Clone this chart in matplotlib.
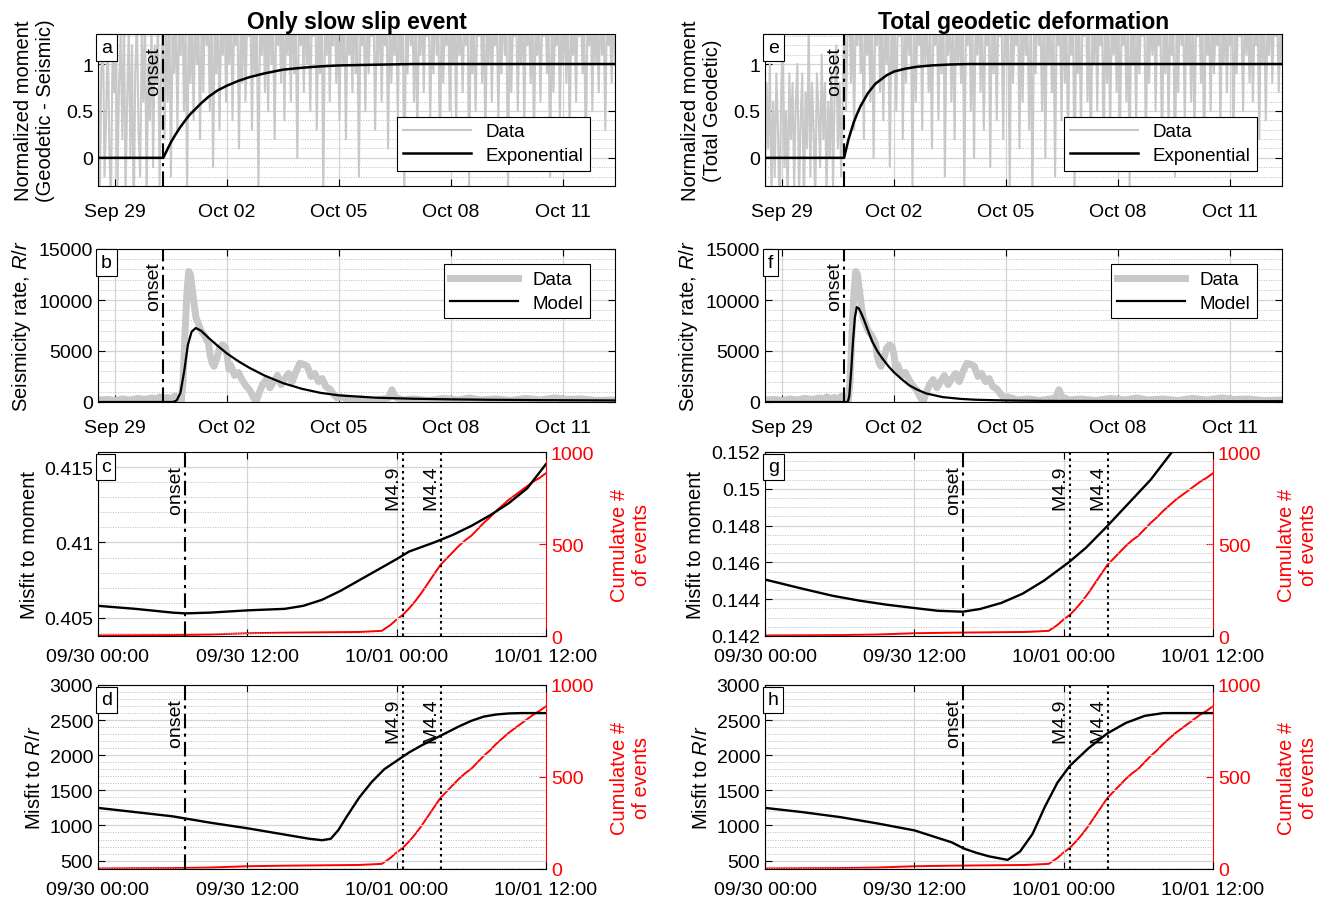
import numpy as np
import matplotlib
matplotlib.use("Agg")
import matplotlib.pyplot as plt
import matplotlib.dates as mdates
from matplotlib.ticker import MultipleLocator, FuncFormatter
from matplotlib.transforms import blended_transform_factory
from datetime import datetime, timedelta

plt.rcParams['font.family'] = ['Liberation Sans', 'DejaVu Sans']
plt.rcParams['mathtext.fontset'] = 'custom'
plt.rcParams['mathtext.it'] = 'Liberation Sans:italic'
plt.rcParams['mathtext.rm'] = 'Liberation Sans'

# ---- time references -------------------------------------------------
day0 = datetime(2020, 9, 29)      # long panels: offsets in days
hour0 = datetime(2020, 9, 30)     # zoomed panels: offsets in hours
long_range = (-0.46, 13.4)
onset_sse_d = 1.29
onset_tot_d = 1.66
onset_sse_h = 7.0
onset_tot_h = 15.9
m49_h = 24.5
m44_h = 27.6

# ---- panel a / e : normalized moment data (regular sampling) ----------
moment_sse = [
    1.1, -0.6, 0.9, 1.5, -0.2, 0.4, 1.4, 0.1, -0.5, 1.2, 0.7, 1.6, -0.3, 0.8, 1.3, 0.2, 1.5, -0.4, 0.6, 1.4,
    0.0, 1.2, -0.7, 0.9, 1.5, 0.3, -0.2, 1.3, 0.6, 1.6, -0.5, 1.0, 0.4, 1.4, -0.1, 1.2, 0.8, 1.5, -0.3, 0.9,
    1.6, 0.2, 1.4, 0.6, 1.7, -0.2, 1.3, 0.9, 1.6, 0.3, 1.5, 1.1, 1.8, 0.5, 1.4, -0.4, 1.6, 0.8, 1.5, 0.4,
    1.7, 1.0, 1.4, 0.2, 1.6, 0.7, 1.8, 1.2, 1.5, 0.5, 1.7, -0.1, 1.4, 0.9, 1.6, 0.3, 1.5, 1.1, 1.8, 0.6,
    1.4, 1.0, 1.7, 0.4, 1.5, 1.2, 1.6, 0.1, 1.4, 0.8, 1.8, 0.6, 1.5, 1.3, 1.7, 0.3, 1.6, 0.9, 1.4, -0.3,
    1.5, 1.1, 1.7, 0.7, 1.6, 0.5, 1.8, 1.0, 1.4, 0.2, 1.6, 1.2, 1.5, 0.8, 1.7, 0.4, 1.5, 1.1, 1.6, 0.6,
    1.8, 0.9, 1.4, 0.0, 1.6, 1.2, 1.5, 0.7, 1.7, 1.0, 1.4, 0.5, 1.6, 1.3, 1.8, 0.3, 1.5, 0.9, 1.7, -0.4,
    1.4, 1.1, 1.6, 0.6, 1.5, 1.2, 1.8, 0.8, 1.4, 0.4, 1.7, 1.0, 1.5, 0.2, 1.6, 1.1, 1.4, 0.7, 1.8, 0.9,
    1.5, -0.2, 1.6, 1.2, 1.4, 0.5, 1.7, 0.9, 1.5, 1.3, 1.6, 0.3, 1.4, 1.0, 1.8, 0.6, 1.5, 1.2, 1.7, 0.1,
    1.6, 0.8, 1.4, 1.1, 1.5, 0.4, 1.7, 1.0, 1.6, -0.5, 1.4, 0.9, 1.8, 1.2, 1.5, 0.6, 1.6, 0.2, 1.4, 1.1,
    1.7, 0.7, 1.5, 1.3, 1.6, 0.4, 1.4, 0.9, 1.8, 1.1, 1.5, -0.1, 1.6, 0.8, 1.4, 1.2, 1.7, 0.5, 1.5, 1.0,
    1.6, 0.3, 1.8, 1.1, 1.4, 0.7, 1.5, 1.2, 1.7, -0.3, 1.6, 0.9, 1.4, 0.5, 1.5, 1.3, 1.8, 0.8, 1.6, 0.2,
    1.4, 1.0, 1.7, 0.6, 1.5, 1.2, 1.6, 0.4, 1.4, 0.9, 1.8, 1.1, 1.5, -0.4, 1.7, 0.7, 1.4, 1.3, 1.6, 0.5,
    1.5, 1.0, 1.8, 0.3, 1.6, 1.2, 1.4, 0.8, 1.7, 0.1, 1.5, 1.1, 1.6, 0.6, 1.4, 1.3, 1.8, 0.9, 1.5, -0.2,
    1.6, 0.7, 1.4, 1.2, 1.7, 0.4, 1.5, 1.0, 1.6, 0.8, 1.8, 0.2, 1.4, 1.1, 1.5, 0.6, 1.7, 1.3, 1.6, 0.9,
    1.4, 0.0, 1.5, 1.2, 1.8, 0.5, 1.6, 1.0, 1.4, 0.7, 1.7, 1.1, 1.5, 0.3, 1.6, 1.2, 1.4, 0.8, 1.7, 1.0]

moment_tot = [
    -0.5, 0.8, 0.1, 1.0, -0.4, 0.6, -0.2, 0.9, 0.3, -0.6, 0.7, 1.3, -0.1, 0.5, -0.5, 0.9, 0.2, 0.8, -0.3, 0.6,
    1.0, -0.4, 0.4, 0.9, -0.6, 0.7, 0.1, 1.4, -0.2, 0.8, 0.3, -0.5, 0.9, 0.5, -0.1, 1.1, 0.2, 0.8, -0.4, 0.6,
    0.0, 0.9, -0.3, 0.7, 1.2, 0.1, 0.8, -0.2, 0.6, 1.6, 0.5, 1.4, 1.7, 0.8, 1.5, 0.3, 1.6, 1.2, 1.8, 0.9,
    1.4, 0.2, 1.7, 1.1, 1.5, 0.6, 1.6, 0.0, 1.4, 1.2, 1.8, 0.7, 1.5, 0.4, 1.6, 1.0, 1.7, -0.1, 1.4, 0.9,
    1.6, 0.5, 1.5, 1.3, 1.8, 0.2, 1.4, 0.8, 1.6, 1.1, 1.5, -0.3, 1.7, 0.6, 1.4, 1.2, 1.6, 0.3, 1.8, 1.0,
    1.5, 0.7, 1.4, 0.1, 1.6, 1.2, 1.7, 0.4, 1.5, 0.9, 1.8, -0.2, 1.4, 1.1, 1.6, 0.6, 1.5, 0.2, 1.7, 1.0,
    1.4, 0.8, 1.6, -0.4, 1.5, 1.2, 1.8, 0.5, 1.4, 0.0, 1.6, 1.1, 1.7, 0.7, 1.5, 0.3, 1.4, 1.2, 1.6, -0.1,
    1.8, 0.9, 1.5, 0.4, 1.6, 1.3, 1.4, 0.2, 1.7, 1.0, 1.5, -0.3, 1.6, 0.8, 1.4, 1.2, 1.8, 0.1, 1.5, 0.6,
    1.7, 1.1, 1.4, 0.3, 1.6, -0.5, 1.5, 0.9, 1.8, 1.2, 1.4, 0.5, 1.6, 0.0, 1.7, 1.0, 1.5, 0.7, 1.4, -0.2,
    1.6, 1.2, 1.5, 0.4, 1.8, 0.8, 1.4, 0.1, 1.6, 1.1, 1.7, -0.4, 1.5, 0.9, 1.4, 0.3, 1.6, 1.3, 1.8, 0.6,
    1.5, 0.0, 1.4, 1.0, 1.7, 0.5, 1.6, 1.2, 1.5, -0.1, 1.8, 0.8, 1.4, 0.3, 1.6, 1.1, 1.5, 0.7, 1.7, 0.2,
    1.4, 1.2, 1.6, 0.6, 1.5, -0.3, 1.8, 1.0, 1.4, 0.4, 1.7, 0.9, 1.5, 1.3, 1.6, 0.1, 1.4, 0.8, 1.6, 1.1,
    1.8, 0.5, 1.5, 1.2, 1.4, 0.0, 1.6, 0.9, 1.7, 0.3, 1.5, 1.1, 1.4, -0.2, 1.6, 0.7, 1.8, 1.2, 1.5, 0.4,
    1.6, 1.0, 1.4, 0.6, 1.7, 0.2, 1.5, 1.3, 1.6, 0.8, 1.4, -0.1, 1.8, 1.1, 1.5, 0.5, 1.6, 0.9, 1.4, 1.2,
    1.7, 0.3, 1.5, 1.0, 1.6, 0.7, 1.4, 1.2, 1.8, 0.1, 1.5, 0.9, 1.6, 1.3, 1.4, 0.5, 1.7, 1.1, 1.5, 0.8,
    1.6, 0.6, 1.4, 1.2, 1.5, 0.2, 1.8, 1.0, 1.6, 0.4, 1.4, 1.1, 1.7, 0.8, 1.5, 1.3, 1.6, 0.7, 1.4, 1.0]

# exponential model curves (days, value)
exp_sse_t = [-0.46, 1.29, 1.4, 1.5, 1.62, 1.75, 1.9, 2.0, 2.15, 2.3, 2.5, 2.75, 3.0, 3.3, 3.6,
             4.0, 4.5, 5.0, 5.5, 6.0, 7.0, 8.0, 13.4]
exp_sse_v = [0.0, 0.0, 0.09, 0.17, 0.25, 0.33, 0.41, 0.46, 0.52, 0.58, 0.65, 0.72, 0.77, 0.82,
             0.86, 0.90, 0.94, 0.96, 0.975, 0.985, 0.993, 1.0, 1.0]
exp_tot_t = [-0.46, 1.66, 1.72, 1.78, 1.85, 1.92, 2.0, 2.1, 2.2, 2.3, 2.4, 2.5, 2.6, 2.8, 3.0,
             3.3, 3.6, 4.0, 4.5, 5.0, 13.4]
exp_tot_v = [0.0, 0.0, 0.1, 0.2, 0.29, 0.38, 0.46, 0.55, 0.62, 0.69, 0.74, 0.79, 0.82, 0.88,
             0.92, 0.95, 0.97, 0.985, 0.995, 1.0, 1.0]

# ---- panel b / f : seismicity rate (days, R/r) -------------------------
rate_t = [-0.45, -0.2, 0.0, 0.2, 0.4, 0.6, 0.8, 1.0, 1.1, 1.2, 1.3, 1.4, 1.5, 1.6, 1.7, 1.77,
          1.82, 1.87, 1.92, 1.97, 2.02, 2.07, 2.12, 2.17, 2.22, 2.3, 2.4, 2.5, 2.55, 2.6, 2.65,
          2.72, 2.8, 2.88, 2.95, 3.0, 3.05, 3.1, 3.2, 3.3, 3.4, 3.5, 3.6, 3.7, 3.78, 3.85,
          3.95, 4.05, 4.15, 4.25, 4.35, 4.45, 4.55, 4.65, 4.75, 4.85, 4.95, 5.05, 5.15, 5.25,
          5.35, 5.45, 5.55, 5.65, 5.75, 5.85, 5.95, 6.05, 6.3, 6.6, 6.9, 7.2, 7.33, 7.42, 7.5,
          7.7, 8.0, 8.4, 8.8, 9.2, 9.5, 9.8, 10.2, 10.6, 11.0, 11.4, 11.8, 12.1, 12.5, 12.9, 13.4]
rate_v = [200, 250, 150, 300, 200, 350, 250, 400, 300, 500, 300, 450, 300, 600, 200, 0,
          2000, 6500, 10500, 12800, 12500, 11000, 9500, 8200, 7800, 7000, 6500, 5800, 4500, 3800, 3500,
          4200, 5300, 5600, 5400, 4600, 3200, 3600, 2600, 2900, 2200, 1600, 1200, 500, 0, 800,
          1700, 2200, 1400, 2000, 2600, 1700, 2300, 2800, 2000, 3000, 3800, 3700, 3500, 2500,
          2800, 2000, 2300, 1500, 1300, 800, 400, 500, 200, 300, 150, 300, 400, 1200, 500,
          200, 300, 150, 350, 200, 400, 200, 300, 150, 350, 200, 400, 250, 300, 150, 200]

# seismicity model curves (days, R/r)
rmod_sse_t = [-0.46, 1.55, 1.65, 1.75, 1.85, 1.95, 2.05, 2.16, 2.3, 2.5, 2.75, 3.0, 3.3, 3.6,
              4.0, 4.5, 5.0, 5.5, 6.0, 7.0, 8.0, 9.0, 10.0, 11.5, 13.4]
rmod_sse_v = [0, 0, 150, 900, 3000, 5600, 6900, 7250, 7000, 6300, 5500, 4750, 4000, 3350,
              2600, 1850, 1300, 900, 650, 420, 320, 260, 220, 180, 150]
rmod_tot_t = [-0.46, 1.76, 1.8, 1.85, 1.9, 1.95, 2.0, 2.06, 2.12, 2.2, 2.3, 2.42, 2.55, 2.68,
              2.85, 3.0, 3.2, 3.4, 3.6, 3.85, 4.3, 4.8, 5.2, 6.0, 7.0, 9.0, 13.4]
rmod_tot_v = [0, 0, 600, 3000, 6000, 8300, 9300, 9150, 8700, 8000, 7000, 5900, 5000, 4300,
              3500, 2900, 2250, 1650, 1250, 850, 480, 300, 220, 150, 110, 90, 80]

# ---- panels c, d, g, h : misfits (hours from 09/30 00:00) ---------------
mis_mom_sse_t = [0, 3, 6, 7, 9, 12, 15, 16.5, 18, 19.5, 21, 22.5, 24, 25, 26, 27, 28.5, 30,
                 31.5, 33, 34.5, 36]
mis_mom_sse_v = [0.4058, 0.4056, 0.40535, 0.4053, 0.40535, 0.4055, 0.4056, 0.4058, 0.4062,
                 0.4068, 0.4075, 0.4082, 0.4089, 0.4094, 0.4097, 0.4100, 0.4105, 0.4111,
                 0.4118, 0.4126, 0.4136, 0.4152]
mis_rr_sse_t = [0, 3, 6, 9, 12, 15, 17, 18, 18.7, 19.3, 20, 21, 22, 23, 24, 25, 26, 27, 28,
                29, 30, 31, 32, 33, 34, 35, 36]
mis_rr_sse_v = [1250, 1190, 1130, 1040, 960, 870, 810, 790, 810, 930, 1130, 1400, 1620, 1800,
                1920, 2040, 2140, 2230, 2320, 2410, 2490, 2550, 2580, 2595, 2600, 2600, 2600]
mis_mom_tot_t = [0, 2.7, 5.4, 7.6, 9.8, 12, 13.9, 15.9, 17.3, 19, 20.7, 22.4, 24.4, 25.8, 27.4,
                 29.2, 31, 32.7, 34.5, 36]
mis_mom_tot_v = [0.14507, 0.14462, 0.14419, 0.14392, 0.1437, 0.14352, 0.14337, 0.14332,
                 0.14347, 0.1438, 0.1443, 0.1450, 0.1460, 0.1468, 0.1479, 0.1492, 0.1505,
                 0.1520, 0.1536, 0.1553]
mis_rr_tot_t = [0, 3, 6, 9, 12, 15, 16, 17, 18, 19.5, 20.5, 21.5, 22.5, 23.5, 24.5, 26, 27.5,
                29, 30.5, 32, 34, 36]
mis_rr_tot_v = [1250, 1190, 1120, 1030, 930, 760, 670, 610, 560, 510, 630, 880, 1270, 1610,
                1850, 2100, 2310, 2460, 2560, 2600, 2600, 2600]

cum_t = [0, 6, 9, 12, 15, 18, 21, 22.8, 23.5, 24, 24.5, 25, 25.5, 26, 26.5, 27, 27.5, 28,
         28.5, 29, 29.5, 30, 30.5, 31, 31.5, 32, 32.5, 33, 33.5, 34, 34.5, 35, 35.5, 36]
cum_v = [3, 5, 8, 15, 18, 20, 22, 28, 60, 90, 115, 150, 190, 235, 285, 335, 385, 420, 455,
         490, 520, 545, 580, 615, 645, 680, 710, 740, 765, 790, 815, 840, 860, 885]


def days(lst):
    return [day0 + timedelta(days=float(d)) for d in lst]


def hours(lst):
    return [hour0 + timedelta(hours=float(h)) for h in lst]


FS = 14
GRAY = '#c8c8c8'

fig = plt.figure(figsize=(13.3, 9.03), dpi=100)
W, H = 1330.0, 903.0


def box(x0, y0, x1, y1):
    return [x0 / W, 1 - y1 / H, (x1 - x0) / W, (y1 - y0) / H]


def style(ax, ylim, major, minor, xpad=12):
    ax.set_ylim(*ylim)
    ax.yaxis.set_major_locator(MultipleLocator(major))
    ax.yaxis.set_minor_locator(MultipleLocator(minor))
    ax.grid(which='major', color='#d4d4d4', lw=0.9, ls='-')
    ax.grid(which='minor', axis='y', color='#bdbdbd', lw=0.7, ls=(0, (1, 1.5)))
    ax.tick_params(which='major', direction='in', top=True, right=True, labelsize=FS,
                   length=5, width=0.8)
    ax.tick_params(axis='x', pad=xpad)
    ax.tick_params(which='minor', length=0)
    ax.set_axisbelow(True)
    for s in ax.spines.values():
        s.set_linewidth(0.8)


def letter(ax, s):
    ax.text(0.006, 0.965, s, transform=ax.transAxes, ha='left', va='top', fontsize=FS,
            bbox=dict(boxstyle='square,pad=0.25', fc='white', ec='black', lw=0.8), zorder=10)


def vmark(ax, x, ls, label):
    ax.axvline(x, color='k', lw=1.5, ls=ls, zorder=5)
    tr = blended_transform_factory(ax.transData, ax.transAxes)
    ax.text(x, 0.95, label + ' ', transform=tr, rotation=90, ha='right', va='top', fontsize=FS,
            zorder=6)


long_ticks = days([0, 3, 6, 9, 12])
short_ticks = hours([0, 12, 24, 36])
DASHDOT = (0, (7, 2.5, 1.5, 2.5))
DOT = (0, (1.2, 1.8))


def long_axes(ax):
    ax.set_xlim(*days(long_range))
    ax.set_xticks(long_ticks)
    ax.xaxis.set_major_formatter(mdates.DateFormatter('%b %d'))


def short_axes(ax, onset_h, mis_t, mis_v, ylim, major, minor, ylabel, let):
    style(ax, ylim, major, minor, xpad=9)
    ax.set_xlim(hours([0, 36]))
    ax.set_xticks(short_ticks)
    ax.xaxis.set_major_formatter(mdates.DateFormatter('%m/%d %H:%M'))
    ax.tick_params(right=False)
    ax.spines['right'].set_visible(False)
    ax2 = ax.twinx()
    ax2.plot(hours(cum_t), cum_v, color='red', lw=1.4)
    ax2.set_ylim(0, 1000)
    ax2.set_yticks([0, 500, 1000])
    ax2.tick_params(direction='in', colors='red', labelsize=FS, length=5, width=0.8)
    ax2.spines['right'].set_color('red')
    for k in ('left', 'top', 'bottom'):
        ax2.spines[k].set_visible(False)
    ax2.set_ylabel('Cumulatve #\nof events', color='red', fontsize=FS + 0.5)
    ax2.yaxis.set_label_coords(1.143, 0.5)
    ax.set_zorder(ax2.get_zorder() + 1)
    ax.patch.set_visible(False)
    ax.plot(hours(mis_t), mis_v, color='k', lw=1.7, zorder=4)
    vmark(ax, hours([onset_h])[0], DASHDOT, 'onset')
    vmark(ax, hours([m49_h])[0], DOT, 'M4.9')
    vmark(ax, hours([m44_h])[0], DOT, 'M4.4')
    ax.set_ylabel(ylabel, fontsize=FS + 0.5)
    letter(ax, let)
    return ax2


columns = [
    dict(x0=98, title='Only slow slip event', moment=moment_sse, et=exp_sse_t, ev=exp_sse_v,
         rt=rmod_sse_t, rv=rmod_sse_v, onset_d=onset_sse_d, onset_h=onset_sse_h,
         ylab_a='Normalized moment\n(Geodetic - Seismic)', mm_t=mis_mom_sse_t, mm_v=mis_mom_sse_v,
         mm_lim=(0.4038, 0.416), mm_major=0.005, mm_minor=0.001,
         rr_t=mis_rr_sse_t, rr_v=mis_rr_sse_v, lets='abcd'),
    dict(x0=765, title='Total geodetic deformation', moment=moment_tot, et=exp_tot_t, ev=exp_tot_v,
         rt=rmod_tot_t, rv=rmod_tot_v, onset_d=onset_tot_d, onset_h=onset_tot_h,
         ylab_a='Normalized moment\n(Total Geodetic)', mm_t=mis_mom_tot_t, mm_v=mis_mom_tot_v,
         mm_lim=(0.142, 0.152), mm_major=0.002, mm_minor=0.0005,
         rr_t=mis_rr_tot_t, rr_v=mis_rr_tot_v, lets='efgh'),
]

for c in columns:
    x0 = c['x0']
    # moment panel
    ax = fig.add_axes(box(x0, 35, x0 + 517, 187))
    style(ax, (-0.3, 1.32), 0.5, 0.1)
    ax.set_yticks([0, 0.5, 1])
    ax.yaxis.set_major_formatter(FuncFormatter(lambda v, p: '%g' % v))
    long_axes(ax)
    tm = days(np.linspace(long_range[0], long_range[1], len(c['moment'])))
    ax.plot(tm, c['moment'], color=GRAY, lw=1.5, label='Data')
    ax.plot(days(c['et']), c['ev'], color='k', lw=1.8, label='Exponential')
    vmark(ax, days([c['onset_d']])[0], DASHDOT, 'onset')
    ax.set_title(c['title'], fontsize=16.5, fontweight='bold', pad=4)
    ax.set_ylabel(c['ylab_a'], fontsize=FS + 0.5, labelpad=8)
    lg = ax.legend(loc='lower right', fontsize=FS - 0.5, handlelength=3.6, fancybox=False,
                   edgecolor='black', framealpha=1, borderpad=0.35, labelspacing=0.35,
                   bbox_to_anchor=(0.97, 0.04))
    lg.get_frame().set_linewidth(0.8)
    lg.set_zorder(12)
    letter(ax, c['lets'][0])

    # seismicity rate panel
    ax = fig.add_axes(box(x0, 250, x0 + 517, 403))
    style(ax, (0, 15000), 5000, 1000)
    long_axes(ax)
    ax.plot(days(rate_t), rate_v, color=GRAY, lw=5, solid_joinstyle='round', label='Data')
    ax.plot(days(c['rt']), c['rv'], color='k', lw=1.6, label='Model')
    vmark(ax, days([c['onset_d']])[0], DASHDOT, 'onset')
    ax.set_ylabel('Seismicity rate, $R/r$', fontsize=FS + 0.5, labelpad=4)
    lg = ax.legend(loc='upper right', fontsize=FS - 0.5, handlelength=3.6, fancybox=False,
                   edgecolor='black', framealpha=1, borderpad=0.35, labelspacing=0.35,
                   bbox_to_anchor=(0.97, 0.96))
    lg.get_frame().set_linewidth(0.8)
    letter(ax, c['lets'][1])

    # misfit to moment
    ax = fig.add_axes(box(x0, 453, x0 + 448, 637))
    short_axes(ax, c['onset_h'], c['mm_t'], c['mm_v'], c['mm_lim'], c['mm_major'],
               c['mm_minor'], 'Misfit to moment', c['lets'][2])
    ax.yaxis.set_major_formatter(FuncFormatter(lambda v, p: '%g' % round(v, 4)))

    # misfit to R/r
    ax = fig.add_axes(box(x0, 686, x0 + 448, 870))
    short_axes(ax, c['onset_h'], c['rr_t'], c['rr_v'], (380, 3000), 500, 100,
               'Misfit to $R/r$', c['lets'][3])

fig.savefig('out.png', dpi=100)
